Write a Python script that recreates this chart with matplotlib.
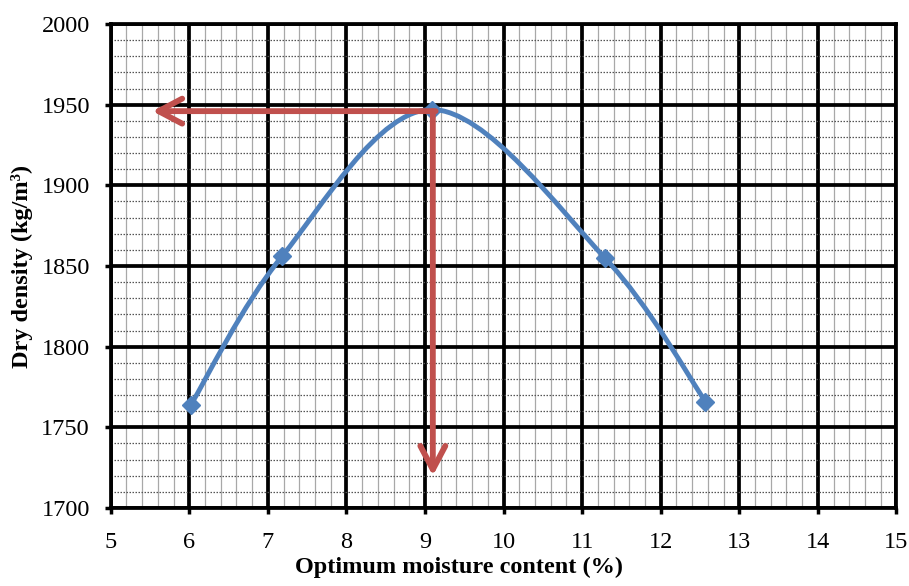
import numpy as np
import matplotlib.pyplot as plt
from matplotlib.path import Path
from matplotlib.patches import PathPatch
from matplotlib.ticker import MultipleLocator

# Compaction test data
moisture = [6.02, 7.18, 9.09, 11.29, 12.57]
density = [1764, 1856, 1947, 1855, 1766]

# Optimum read-off
omc = 9.1
max_dd = 1946
arrow_x_end = 5.53
arrow_y_end = 1720

blue = '#4F81BD'
red = '#C0504D'

plt.rcParams['font.family'] = ['Liberation Serif', 'DejaVu Serif']

fig = plt.figure(figsize=(9.09, 5.86), dpi=100)
ax = fig.add_axes([0.1218, 0.1331, 0.9861 - 0.1218, 0.959 - 0.1331])

ax.set_xlim(5, 15)
ax.set_ylim(1700, 2000)
ax.xaxis.set_major_locator(MultipleLocator(1))
ax.xaxis.set_minor_locator(MultipleLocator(0.2))
ax.yaxis.set_major_locator(MultipleLocator(50))
ax.yaxis.set_minor_locator(MultipleLocator(10))

# graph paper grid
ax.grid(which='minor', axis='x', color='#a8a8a8', lw=0.9, ls='-')
ax.grid(which='minor', axis='y', color='#555555', lw=0.9, ls=(0, (1.2, 1.2)))
ax.grid(which='major', color='black', lw=2.7)
ax.set_axisbelow(True)

for s in ax.spines.values():
    s.set_linewidth(2.7)
    s.set_color('black')

ax.tick_params(which='major', direction='out', length=4, width=2.5, labelsize=17.5, pad=11)
ax.tick_params(axis='x', pad=13)
ax.tick_params(which='minor', length=0)

# Excel style smoothed line: cubic bezier through the points
x = np.array(moisture)
y = np.array(density)
verts = [(x[0], y[0])]
codes = [Path.MOVETO]
n = len(x)
for i in range(n - 1):
    i0 = max(i - 1, 0)
    i3 = min(i + 2, n - 1)
    c1 = (x[i] + (x[i + 1] - x[i0]) / 6, y[i] + (y[i + 1] - y[i0]) / 6)
    c2 = (x[i + 1] - (x[i3] - x[i]) / 6, y[i + 1] - (y[i3] - y[i]) / 6)
    verts += [c1, c2, (x[i + 1], y[i + 1])]
    codes += [Path.CURVE4] * 3
curve = PathPatch(Path(verts, codes), facecolor='none', edgecolor=blue, lw=3.5, zorder=3)
ax.add_patch(curve)
ax.plot(moisture, density, ls='none', marker='D', ms=9.5, color=blue, zorder=4)

# arrows for OMC / MDD
head = '->,head_length=0.85,head_width=0.45'
ax.annotate('', xy=(arrow_x_end, max_dd), xytext=(omc + 0.035, max_dd),
            arrowprops=dict(arrowstyle=head, mutation_scale=20,
                            color=red, lw=4.2, shrinkA=0, shrinkB=0), zorder=5)
ax.annotate('', xy=(omc, arrow_y_end), xytext=(omc, max_dd),
            arrowprops=dict(arrowstyle=head, mutation_scale=20,
                            color=red, lw=4.2, shrinkA=0, shrinkB=0), zorder=5)

ax.set_xlabel('Optimum moisture content (%)', fontsize=17.5, fontweight='bold', va='center')
ax.set_ylabel('Dry density (kg/m³)', fontsize=17.5, fontweight='bold', va='center')
ax.xaxis.set_label_coords(0.443, -0.122)
ax.yaxis.set_label_coords(-0.113, 0.5)

fig.savefig('out.png', dpi=100)
